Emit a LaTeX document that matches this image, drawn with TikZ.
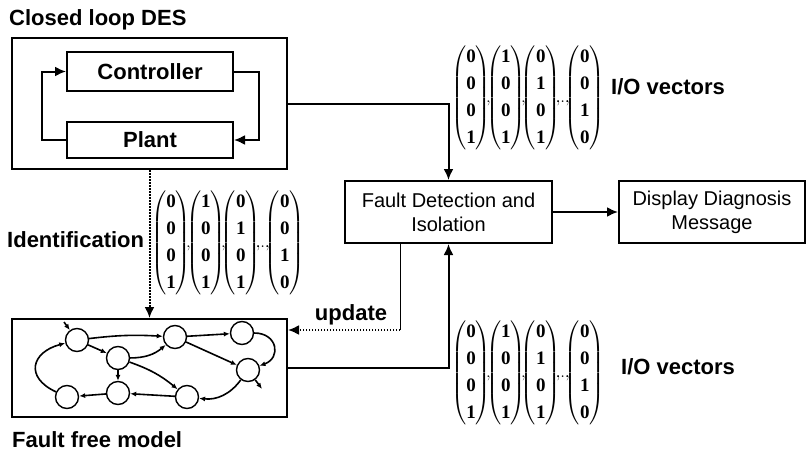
\documentclass[tikz,border=0pt]{standalone}
\usepackage{amsmath}
\usepackage{fontspec}
\setmainfont{Liberation Sans}
\newfontfamily\bitfont{Liberation Serif}
\usetikzlibrary{arrows.meta,positioning,calc}

% one column vector of I/O bits, and the running list of them
\newcommand{\bit}[1]{\text{\bitfont\bfseries\fontsize{19}{20}\selectfont #1}}
\newcommand{\iovec}[4]{\begin{pmatrix}\bit{#1}\\\bit{#2}\\\bit{#3}\\\bit{#4}\end{pmatrix}}
\newcommand{\iosep}{\mkern-5mu,\mkern-5mu}
\newcommand{\iolist}{{\def\arraystretch{1.35}\thinmuskip=0mu\medmuskip=0mu
  $\iovec0001\iosep\iovec1001\iosep\iovec0101\iosep{\ldots}\iosep\iovec0010$}}

\begin{document}
\begin{tikzpicture}[
  x=1pt,y=1pt,
  >={Latex[length=11pt,width=10pt]},
  big/.style={font=\fontsize{22}{24}\selectfont\bfseries,inner sep=0pt},
  box/.style={draw,line width=2pt,inner sep=0pt,align=center,font=\fontsize{20}{24}\selectfont},
  arr/.style={->,line width=2pt},
  dotarr/.style={->,line width=2pt,dash pattern=on 1.5pt off 1.5pt},
  st/.style={circle,draw,line width=1.4pt,minimum size=23pt,inner sep=0pt},
  tr/.style={-{Latex[length=6pt,width=5pt]},line width=1.6pt},
  vec/.style={font=\fontsize{17}{20}\selectfont,inner sep=0pt}
]
\useasboundingbox (0,0) rectangle (806,-455);

% closed loop
\node[box,minimum width=275pt,minimum height=131pt] (des) at (149.5,-103.5) {};
\node[box,font=\fontsize{22}{24}\selectfont\bfseries,minimum width=166pt,minimum height=39pt] (ctrl) at (150,-71.5) {Controller};
\node[box,font=\fontsize{22}{24}\selectfont\bfseries,minimum width=166pt,minimum height=36pt] (plant) at (150,-140) {Plant};
\node[big,anchor=base west] (destitle) at (9,-25) {Closed loop DES};

% diagnoser
\node[box,minimum width=207pt,minimum height=62pt] (fdi) at (448.5,-212) {Fault Detection and\\Isolation};
\node[box,minimum width=186pt,minimum height=62pt] (disp) at (712,-212) {Display Diagnosis\\Message};

% model
\node[box,minimum width=275pt,minimum height=98pt] (model) at (149.5,-368) {};
\node[big,anchor=base west] (modeltitle) at (12,-447) {Fault free model};

\node[st] (s1) at (77,-340) {};
\node[st] (s2) at (175,-337) {};
\node[st] (s3) at (242,-333) {};
\node[st] (s4) at (118,-358) {};
\node[st] (s5) at (248,-370) {};
\node[st] (s6) at (67,-397) {};
\node[st] (s7) at (118,-393) {};
\node[st] (s8) at (187,-397) {};
\coordinate (init) at (64,-322);
\coordinate (final) at (262,-389);

\draw[tr] (init) -- (s1);
\draw[tr] (s1) to[bend left=5] (s2);
\draw[tr] (s2) -- (s3);
\draw[tr] (s1) -- (s4);
\draw[tr] (s4) to[bend right=20] (s2);
\draw[tr] (s2) -- (s5);
\draw[tr] (s3) to[out=0,in=20,looseness=1.8] (s5);
\draw[tr] (s5) -- (final);
\draw[tr] (s4) -- (s7);
\draw[tr] (s4) to[bend left=10] (s8);
\draw[tr] (s5) to[bend left=30] (s8);
\draw[tr] (s8) -- (s7);
\draw[tr] (s7) -- (s6);
\draw[tr] (s6) to[out=155,in=195,looseness=1.8] (s1);

% vectors and labels
\node[vec] (vtop) at (528,-98) {\iolist};
\node[big,anchor=west] (iotop) at (611,-87) {I/O vectors};
\node[vec] (vid) at (228,-243) {\iolist};
\node[big,anchor=west] (ident) at (7,-240) {Identification};
\node[vec] (vbot) at (528,-373) {\iolist};
\node[big,anchor=west] (iobot) at (621,-367) {I/O vectors};
\node[big,anchor=base] (updlabel) at (351,-320) {update};

% connectors
\draw[arr] (plant.west) -- ++(-24,0) |- (ctrl.west);
\draw[arr] (ctrl.east) -- ++(25,0) |- (plant.east);
\draw[arr] (des.east) -| (fdi.north);
\draw[arr] (fdi.east) -- (disp.west);
\draw[arr] (model.east) -| (fdi.south);
\draw[dotarr] (des.south) -- (model.north);
\coordinate (upd) at (400,-330);
\draw[line width=1pt] (fdi.south -| upd) -- (upd);
\draw[dotarr] (upd) -- (model.east |- upd);
\end{tikzpicture}
\end{document}
